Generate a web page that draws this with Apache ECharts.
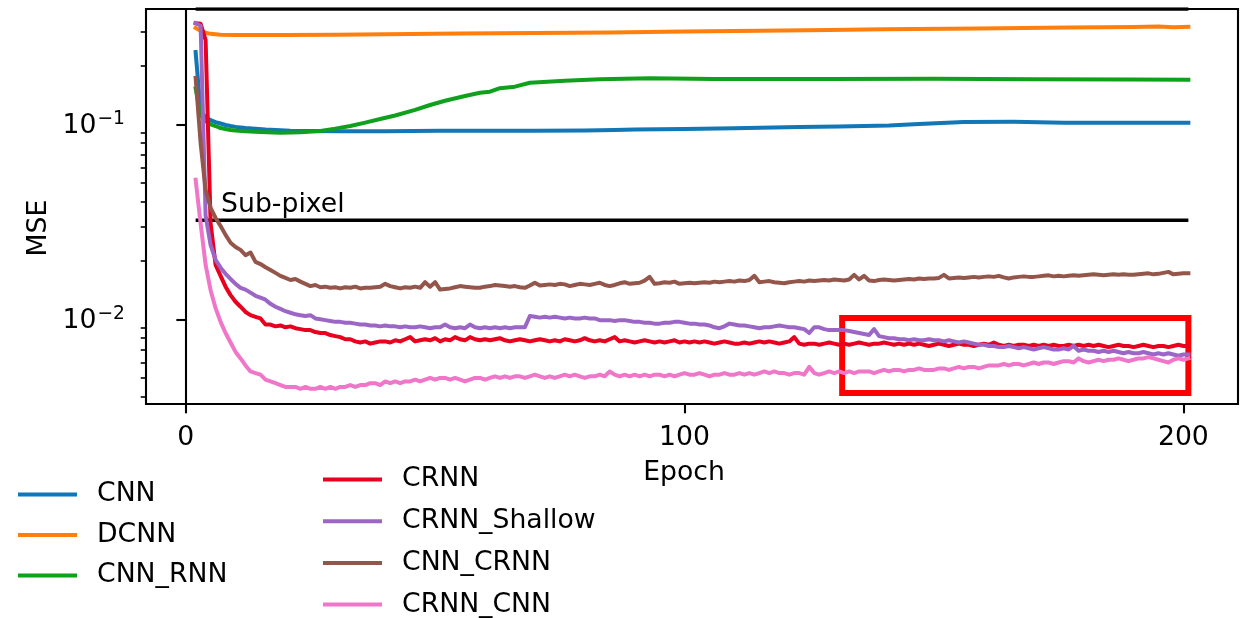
<!DOCTYPE html>
<html>
<head>
<meta charset="utf-8">
<script src="https://cdn.jsdelivr.net/npm/echarts@6/dist/echarts.min.js"></script>
<style>
  html, body { margin: 0; padding: 0; background: #ffffff; }
  #chart { width: 1243px; height: 618px; }
</style>
</head>
<body>
<div id="chart"></div>
<script>
// Validation MSE per epoch for seven network variants (log scale).

// Per-epoch curves start at this epoch, one value per epoch.
const FIRST_EPOCH = 2;

const CRNN = [
  0.330, 0.328, 0.270, 0.0311, 0.0190, 0.0167, 0.0147, 0.0133, 0.0123, 0.0116,
  0.0109, 0.0105, 0.0103, 0.0101, 0.0094, 0.0094, 0.0092, 0.0093, 0.0091, 0.0092,
  0.0090, 0.0089, 0.0088, 0.0088, 0.0086, 0.0085, 0.0085, 0.0083, 0.0082, 0.0081,
  0.0079, 0.0079, 0.0077, 0.0076, 0.0077, 0.0075, 0.0076, 0.0077, 0.0077, 0.0076,
  0.0078, 0.0077, 0.0079, 0.0081, 0.0077, 0.0078, 0.0079, 0.0078, 0.0080, 0.0077,
  0.0079, 0.0078, 0.0081, 0.0079, 0.0078, 0.0081, 0.0079, 0.0078, 0.0079, 0.0078,
  0.0079, 0.0080, 0.0078, 0.0077, 0.0078, 0.0079, 0.0078, 0.0077, 0.0078, 0.0079,
  0.0078, 0.0077, 0.0078, 0.0077, 0.0079, 0.0078, 0.0077, 0.0078, 0.0080, 0.0078,
  0.0077, 0.0078, 0.0077, 0.0079, 0.0081, 0.0077, 0.0078, 0.0077, 0.0076, 0.0077,
  0.0078, 0.0077, 0.0076, 0.0077, 0.0076, 0.0077, 0.0078, 0.0076, 0.0077, 0.0076,
  0.0077, 0.0076, 0.0077, 0.0076, 0.0075, 0.0076, 0.0077, 0.0076, 0.0075, 0.0075,
  0.0076, 0.0075, 0.0076, 0.0077, 0.0076, 0.0077, 0.0076, 0.0075, 0.0076, 0.0077,
  0.0081, 0.0075, 0.0074, 0.0075, 0.0075, 0.0074, 0.0075, 0.0076, 0.0075, 0.0074,
  0.0075, 0.0074, 0.0075, 0.0076, 0.0075, 0.0074, 0.0075, 0.0075, 0.0076, 0.0075,
  0.0074, 0.0075, 0.0074, 0.0075, 0.0074, 0.0075, 0.0074, 0.0073, 0.0074, 0.0075,
  0.0074, 0.0073, 0.0074, 0.0075, 0.0074, 0.0074, 0.0073, 0.0074, 0.0075, 0.0074,
  0.0076, 0.0074, 0.0073, 0.0074, 0.0073, 0.0074, 0.0074, 0.0073, 0.0074, 0.0073,
  0.0074, 0.0073, 0.0074, 0.0073, 0.0073, 0.0074, 0.0073, 0.0074, 0.0073, 0.0074,
  0.0073, 0.0074, 0.0073, 0.0072, 0.0073, 0.0074, 0.0073, 0.0073, 0.0072, 0.0073,
  0.0074, 0.0073, 0.0072, 0.0073, 0.0073, 0.0072, 0.0073, 0.0074, 0.0073, 0.0073
];

const CRNN_SHALLOW = [
  0.330, 0.320, 0.034, 0.024, 0.0202, 0.0184, 0.0171, 0.0161, 0.0152, 0.0145,
  0.0142, 0.0137, 0.0132, 0.0129, 0.0126, 0.0120, 0.0116, 0.0113, 0.0110, 0.0108,
  0.0106, 0.0105, 0.0104, 0.0105, 0.0101, 0.0100, 0.0099, 0.0098, 0.0097, 0.0097,
  0.0096, 0.0096, 0.0095, 0.0094, 0.0094, 0.0093, 0.0093, 0.0092, 0.0093, 0.0092,
  0.0092, 0.0091, 0.0092, 0.0091, 0.0091, 0.0092, 0.0091, 0.0090, 0.0091, 0.0091,
  0.0094, 0.0091, 0.0090, 0.0091, 0.0090, 0.0094, 0.0091, 0.0090, 0.0091, 0.0090,
  0.0091, 0.0090, 0.0091, 0.0090, 0.0091, 0.0091, 0.0091, 0.0104, 0.0103, 0.0102,
  0.0103, 0.0102, 0.0103, 0.0102, 0.0101, 0.0102, 0.0101, 0.0101, 0.0102, 0.0101,
  0.0101, 0.0099, 0.0099, 0.0099, 0.0098, 0.0099, 0.0099, 0.0098, 0.0097, 0.0097,
  0.0096, 0.0096, 0.0095, 0.0095, 0.0096, 0.0096, 0.0097, 0.0097, 0.0096, 0.0095,
  0.0095, 0.0094, 0.0094, 0.0093, 0.0091, 0.0090, 0.0092, 0.0095, 0.0094, 0.0093,
  0.0093, 0.0092, 0.0091, 0.0090, 0.0091, 0.0091, 0.0092, 0.0093, 0.0092, 0.0091,
  0.0091, 0.0090, 0.0089, 0.0085, 0.0091, 0.0091, 0.0089, 0.0088, 0.0088, 0.0088,
  0.0088, 0.0087, 0.0086, 0.0085, 0.0084, 0.0083, 0.0089, 0.0082, 0.0081, 0.0080,
  0.0080, 0.0079, 0.0079, 0.0078, 0.0079, 0.0078, 0.0078, 0.0079, 0.0078, 0.0078,
  0.0077, 0.0078, 0.0077, 0.0076, 0.0077, 0.0076, 0.0075, 0.0074, 0.0074, 0.0073,
  0.0073, 0.0072, 0.0072, 0.0073, 0.0072, 0.0071, 0.0072, 0.0071, 0.0070, 0.0071,
  0.0072, 0.0071, 0.0070, 0.0070, 0.0071, 0.0070, 0.0073, 0.0069, 0.0070, 0.0069,
  0.0069, 0.0068, 0.0069, 0.0068, 0.0069, 0.0068, 0.0067, 0.0068, 0.0067, 0.0067,
  0.0068, 0.0067, 0.0066, 0.0067, 0.0066, 0.0067, 0.0066, 0.0065, 0.0066, 0.0066
];

const CNN_CRNN = [
  0.173, 0.080, 0.046, 0.0373, 0.0331, 0.0301, 0.0271, 0.0247, 0.0235, 0.0227,
  0.0213, 0.0220, 0.0197, 0.0192, 0.0185, 0.0179, 0.0173, 0.0167, 0.0163, 0.0159,
  0.0161, 0.0156, 0.0152, 0.0148, 0.0150, 0.0146, 0.0147, 0.0145, 0.0146, 0.0144,
  0.0146, 0.0145, 0.0147, 0.0144, 0.0145, 0.0145, 0.0146, 0.0147, 0.0152, 0.0148,
  0.0146, 0.0144, 0.0146, 0.0145, 0.0147, 0.0145, 0.0155, 0.0147, 0.0155, 0.0142,
  0.0143, 0.0144, 0.0146, 0.0148, 0.0147, 0.0146, 0.0145, 0.0145, 0.0147, 0.0148,
  0.0150, 0.0149, 0.0148, 0.0147, 0.0148, 0.0146, 0.0145, 0.0149, 0.0154, 0.0149,
  0.0150, 0.0151, 0.0150, 0.0152, 0.0151, 0.0148, 0.0150, 0.0152, 0.0151, 0.0150,
  0.0152, 0.0154, 0.0150, 0.0148, 0.0150, 0.0153, 0.0155, 0.0152, 0.0153, 0.0154,
  0.0158, 0.0165, 0.0152, 0.0153, 0.0155, 0.0154, 0.0156, 0.0152, 0.0153, 0.0154,
  0.0153, 0.0154, 0.0155, 0.0154, 0.0156, 0.0155, 0.0156, 0.0157, 0.0156, 0.0158,
  0.0157, 0.0159, 0.0167, 0.0155, 0.0156, 0.0157, 0.0155, 0.0154, 0.0153, 0.0155,
  0.0156, 0.0157, 0.0156, 0.0158, 0.0157, 0.0158, 0.0159, 0.0158, 0.0160, 0.0159,
  0.0158, 0.0160, 0.0169, 0.0160, 0.0167, 0.0158, 0.0157, 0.0159, 0.0160, 0.0159,
  0.0158, 0.0159, 0.0160, 0.0161, 0.0160, 0.0162, 0.0161, 0.0162, 0.0162, 0.0163,
  0.0169, 0.0162, 0.0163, 0.0164, 0.0163, 0.0164, 0.0165, 0.0164, 0.0165, 0.0166,
  0.0165, 0.0167, 0.0164, 0.0162, 0.0164, 0.0165, 0.0166, 0.0165, 0.0165, 0.0166,
  0.0167, 0.0168, 0.0166, 0.0167, 0.0166, 0.0167, 0.0168, 0.0167, 0.0168, 0.0169,
  0.0170, 0.0169, 0.0168, 0.0169, 0.0170, 0.0169, 0.0170, 0.0169, 0.0169, 0.0170,
  0.0171, 0.0172, 0.0170, 0.0171, 0.0173, 0.0175, 0.0170, 0.0171, 0.0172, 0.0172
];

const CRNN_CNN = [
  0.0520, 0.0310, 0.0190, 0.0141, 0.0114, 0.0097, 0.0085, 0.0076, 0.0068, 0.0063,
  0.0058, 0.0054, 0.0053, 0.0052, 0.0049, 0.0048, 0.0047, 0.0046, 0.0045, 0.0045,
  0.0045, 0.0044, 0.0045, 0.0044, 0.0044, 0.0045, 0.0044, 0.0045, 0.0044, 0.0045,
  0.0045, 0.0046, 0.0045, 0.0046, 0.0046, 0.0047, 0.0047, 0.0046, 0.0048, 0.0047,
  0.0048, 0.0047, 0.0048, 0.0048, 0.0049, 0.0048, 0.0049, 0.0050, 0.0049, 0.0050,
  0.0050, 0.0049, 0.0050, 0.0049, 0.0048, 0.0049, 0.0050, 0.0050, 0.0049, 0.0050,
  0.0051, 0.0050, 0.0051, 0.0050, 0.0051, 0.0051, 0.0050, 0.0051, 0.0052, 0.0051,
  0.0050, 0.0051, 0.0050, 0.0051, 0.0052, 0.0051, 0.0052, 0.0051, 0.0050, 0.0051,
  0.0051, 0.0052, 0.0051, 0.0054, 0.0052, 0.0051, 0.0052, 0.0051, 0.0052, 0.0051,
  0.0052, 0.0051, 0.0052, 0.0052, 0.0051, 0.0052, 0.0051, 0.0052, 0.0053, 0.0052,
  0.0052, 0.0053, 0.0052, 0.0051, 0.0052, 0.0052, 0.0053, 0.0052, 0.0052, 0.0053,
  0.0052, 0.0053, 0.0052, 0.0053, 0.0054, 0.0053, 0.0054, 0.0053, 0.0053, 0.0052,
  0.0053, 0.0053, 0.0052, 0.0057, 0.0053, 0.0052, 0.0053, 0.0054, 0.0053, 0.0054,
  0.0053, 0.0054, 0.0053, 0.0054, 0.0054, 0.0054, 0.0053, 0.0054, 0.0055, 0.0054,
  0.0055, 0.0055, 0.0054, 0.0055, 0.0055, 0.0056, 0.0055, 0.0055, 0.0055, 0.0056,
  0.0056, 0.0055, 0.0056, 0.0057, 0.0056, 0.0057, 0.0057, 0.0056, 0.0057, 0.0058,
  0.0058, 0.0058, 0.0059, 0.0058, 0.0059, 0.0059, 0.0058, 0.0059, 0.0060, 0.0059,
  0.0060, 0.0060, 0.0059, 0.0060, 0.0061, 0.0061, 0.0060, 0.0063, 0.0061, 0.0060,
  0.0061, 0.0062, 0.0061, 0.0062, 0.0062, 0.0063, 0.0062, 0.0061, 0.0062, 0.0063,
  0.0063, 0.0064, 0.0063, 0.0062, 0.0061, 0.0060, 0.0062, 0.0063, 0.0062, 0.0063
];

// Smooth curves, given as [epoch, mse] pairs.
const CNN = [
  [2, 0.235], [3, 0.1156], [4, 0.109], [5, 0.105], [6, 0.1027], [7, 0.101],
  [8, 0.0992], [9, 0.098], [10, 0.097], [11, 0.0963], [12, 0.0957], [14, 0.0948],
  [16, 0.094], [18, 0.0935], [21, 0.0928], [25, 0.0925], [31, 0.0921], [40, 0.0922],
  [51, 0.0926], [60, 0.0927], [70, 0.0928], [80, 0.093], [86, 0.0935], [90, 0.094],
  [100, 0.0945], [110, 0.0955], [123, 0.0968], [131, 0.0975], [141, 0.0985],
  [147, 0.1003], [156, 0.1028], [166, 0.1030], [176, 0.1019], [186, 0.1020], [201, 0.1019]
];

const DCNN = [
  [2, 0.312], [3, 0.302], [4, 0.295], [5, 0.291], [7, 0.288], [10, 0.287],
  [20, 0.287], [30, 0.288], [40, 0.290], [55, 0.292], [70, 0.294], [85, 0.296],
  [100, 0.299], [115, 0.302], [129, 0.305], [140, 0.307], [159, 0.310], [177, 0.314],
  [190, 0.316], [195, 0.317], [198, 0.315], [201, 0.316]
];

const CNN_RNN = [
  [2, 0.153], [3, 0.1116], [4, 0.104], [5, 0.100], [6, 0.098], [7, 0.0957],
  [8, 0.0946], [9, 0.0935], [10, 0.093], [12, 0.0922], [15, 0.0912], [19, 0.0906],
  [23, 0.091], [27, 0.0925], [30, 0.095], [33, 0.098], [36, 0.102], [39, 0.1064],
  [42, 0.111], [46, 0.1185], [49, 0.1256], [52, 0.132], [56, 0.1397], [59, 0.1452],
  [61, 0.147], [63, 0.1532], [66, 0.156], [69, 0.1634], [76, 0.1674], [83, 0.1703],
  [93, 0.1723], [106, 0.171], [129, 0.171], [150, 0.1715], [170, 0.1705],
  [190, 0.170], [201, 0.1695]
];

// Reference levels and the highlighted late-training window.
const SUB_PIXEL = 0.0322;
const LAST_EPOCH = 201;
const Y_MIN = 0.003677;
const Y_MAX = 0.3903;
const ZOOM_BOX = [[131.6, 0.01016], [201, 0.00419]];

// Axis ticks.
const X_TICKS = [0, 100, 200];
const Y_MAJOR = [0.01, 0.1];
const Y_MINOR = [0.004, 0.005, 0.006, 0.007, 0.008, 0.009,
                 0.02, 0.03, 0.04, 0.05, 0.06, 0.07, 0.08, 0.09, 0.2, 0.3];

const NAMES_LEFT = ['CNN', 'DCNN', 'CNN_RNN'];
const NAMES_RIGHT = ['CRNN', 'CRNN_Shallow', 'CNN_CRNN', 'CRNN_CNN'];

const COLORS = {
  CNN: '#1177b6', DCNN: '#ff7f0e', CNN_RNN: '#0fa01c', CRNN: '#e8001e',
  CRNN_Shallow: '#9b66c6', CNN_CRNN: '#94564b', CRNN_CNN: '#ef76c9'
};

const FONT = 'DejaVu Sans';
const FS = 26.7;

const perEpoch = arr => arr.map((v, i) => [FIRST_EPOCH + i, v]);

const curves = [
  ['CNN', CNN], ['DCNN', DCNN], ['CNN_RNN', CNN_RNN],
  ['CRNN', perEpoch(CRNN)], ['CRNN_Shallow', perEpoch(CRNN_SHALLOW)],
  ['CNN_CRNN', perEpoch(CNN_CRNN)], ['CRNN_CNN', perEpoch(CRNN_CNN)]
];

const series = curves.map(([name, data], k) => ({
  name, type: 'line', data,
  showSymbol: false, symbol: 'none',
  itemStyle: { color: COLORS[name] },
  lineStyle: { color: COLORS[name], width: 4, cap: 'square', join: 'round' },
  z: 3 + k, silent: true
}));

// Pixel level along the top and the sub-pixel threshold.
series.push({
  name: 'pixel', type: 'line', data: [[FIRST_EPOCH, Y_MAX], [LAST_EPOCH, Y_MAX]],
  showSymbol: false, symbol: 'none',
  lineStyle: { color: '#000', width: 3.4 }, z: 2, silent: true
});
series.push({
  name: 'sub-pixel', type: 'line', data: [[FIRST_EPOCH, SUB_PIXEL], [LAST_EPOCH, SUB_PIXEL]],
  showSymbol: false, symbol: 'none',
  lineStyle: { color: '#000', width: 3.4 }, z: 2, silent: true,
  markArea: {
    silent: true,
    itemStyle: { color: 'rgba(0,0,0,0)', borderColor: '#ff0000', borderWidth: 6 },
    label: { show: false },
    data: [[{ coord: ZOOM_BOX[0] }, { coord: ZOOM_BOX[1] }]]
  }
});
series.push({
  name: 'sub-pixel label', type: 'scatter', data: [[7.1, SUB_PIXEL]],
  symbolSize: 0, silent: true, z: 20,
  itemStyle: { opacity: 1, color: '#000' },
  label: {
    show: true, formatter: 'Sub-pixel', position: 'right', distance: 0,
    offset: [0, -15], color: '#000', opacity: 1, textBorderWidth: 0,
    fontFamily: FONT, fontSize: FS
  }
});

const isPow10 = v => Math.abs(Math.log10(v) - Math.round(Math.log10(v))) < 1e-6;

const legendBase = {
  orient: 'vertical', padding: 0, itemWidth: 59, itemHeight: 4, icon: 'rect',
  selectedMode: false, height: 200,
  textStyle: { fontFamily: FONT, fontSize: FS, color: '#000', lineHeight: 26, padding: [0, 0, 0, 15] }
};

const option = {
  animation: false,
  backgroundColor: '#ffffff',
  grid: { left: 146, right: 5, top: 9, bottom: 214, show: true, borderColor: '#000', borderWidth: 2.1, containLabel: false },
  xAxis: {
    type: 'value', min: -7.95, max: 210.95,
    axisLine: { show: true, onZero: false, lineStyle: { color: '#000', width: 2.1 } },
    axisTick: { show: true, customValues: X_TICKS, length: 9.3, lineStyle: { color: '#000', width: 2.1 } },
    axisLabel: { customValues: X_TICKS, margin: 21, color: '#000', fontFamily: FONT, fontSize: FS },
    splitLine: { show: false }
  },
  yAxis: [
    {
      type: 'log', logBase: 10, min: Y_MIN, max: Y_MAX,
      axisLine: { show: true, lineStyle: { color: '#000', width: 2.1 } },
      axisTick: { show: true, customValues: Y_MAJOR, length: 9.3, lineStyle: { color: '#000', width: 2.1 } },
      axisLabel: {
        customValues: Y_MAJOR, margin: 21, color: '#000',
        formatter: v => isPow10(v) ? '{b|10}{s|\u2212' + (-Math.round(Math.log10(v))) + '}' : '',
        rich: {
          b: { fontFamily: FONT, fontSize: FS, color: '#000', padding: [4, 0, 0, 0] },
          s: { fontFamily: FONT, fontSize: 18.7, color: '#000', padding: [0, 0, 10, 1] }
        }
      },
      splitLine: { show: false }
    },
    {
      type: 'log', logBase: 10, min: Y_MIN, max: Y_MAX, position: 'left',
      axisLine: { show: false },
      axisTick: { show: true, customValues: Y_MINOR, length: 5.3, lineStyle: { color: '#000', width: 1.6 } },
      axisLabel: { show: false },
      splitLine: { show: false }
    }
  ],
  legend: [
    Object.assign({}, legendBase, { data: NAMES_LEFT, left: 18, top: 481, itemGap: 13.5 }),
    Object.assign({}, legendBase, { data: NAMES_RIGHT, left: 323, top: 466, itemGap: 14.7 })
  ],
  graphic: [
    { type: 'text', x: 39, y: 228, rotation: Math.PI / 2, silent: true,
      style: { text: 'MSE', fontFamily: FONT, fontSize: FS, fill: '#000', align: 'center', verticalAlign: 'middle' } },
    { type: 'text', x: 684, y: 473, silent: true,
      style: { text: 'Epoch', fontFamily: FONT, fontSize: FS, fill: '#000', align: 'center', verticalAlign: 'middle' } }
  ],
  series
};

const chart = echarts.init(document.getElementById('chart'), null, { renderer: 'canvas' });
chart.setOption(option);
</script>
</body>
</html>
